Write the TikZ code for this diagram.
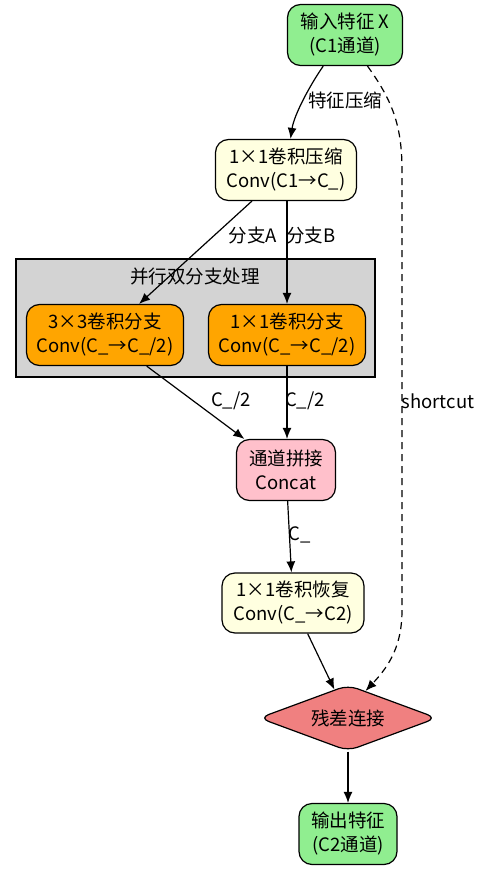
\documentclass[tikz,border=0pt]{standalone}
\usepackage{fontspec}
\setmainfont{Noto Sans CJK SC}
\usetikzlibrary{shapes.geometric,arrows.meta}
\definecolor{lgreen}{HTML}{90EE90}
\definecolor{lyellow}{HTML}{FFFFE0}
\definecolor{orng}{HTML}{FFA500}
\definecolor{pnk}{HTML}{FFC0CB}
\definecolor{lcoral}{HTML}{F08080}
\definecolor{lgray}{HTML}{D3D3D3}
\begin{document}
\begin{tikzpicture}[x=1pt,y=-1pt,
  every node/.style={font=\fontsize{18.5}{24}\selectfont, inner sep=0pt},
  box/.style={draw=black, line width=1.2pt, rounded corners=13pt, align=center},
  arr/.style={-{Latex[length=11pt,width=9pt]}, line width=1.2pt},
  dsh/.style={dash pattern=on 7pt off 5pt}]
\useasboundingbox (0,0) rectangle (482,870);
\fill[white] (0,0) rectangle (482,870);
% cluster
\draw[fill=lgray, line width=1.2pt] (16,259) rectangle (375,377);
\node (cltitle) at (195,277) {并行双分支处理};
% nodes
\node[box, fill=lgreen, minimum width=115, minimum height=61] (in) at (345,35) {输入特征 X\\(C1通道)};
\node[box, fill=lyellow, minimum width=141, minimum height=61] (cmp) at (286,170) {1×1卷积压缩\\Conv(C1→C\_)};
\node[box, fill=orng, minimum width=157, minimum height=61] (bra) at (105,335) {3×3卷积分支\\Conv(C\_→C\_/2)};
\node[box, fill=orng, minimum width=157, minimum height=61] (brb) at (287,335) {1×1卷积分支\\Conv(C\_→C\_/2)};
\node[box, fill=pnk, minimum width=99, minimum height=61] (cat) at (286,470) {通道拼接\\Concat};
\node[box, fill=lyellow, minimum width=142, minimum height=60] (rec) at (293,603) {1×1卷积恢复\\Conv(C\_→C2)};
\node[shape=diamond, draw=black, line width=1.2pt, fill=lcoral, rounded corners=10pt, aspect=2.7, minimum width=178, minimum height=66] (dia) at (348,718) {残差连接};
\node[box, fill=lgreen, minimum width=98, minimum height=61] (out) at (348,834) {输出特征\\(C2通道)};
% edges
\draw[arr] (in) .. controls (310,85) and (294,115) .. (cmp);
\node (l1) at (345,100) {特征压缩};
\draw[arr, dsh] (in) .. controls (392,100) and (402,125) .. (402,170) -- (402,610) .. controls (402,645) and (390,665) .. (dia.57);
\node (l2) at (438,401) {shortcut};
\draw[arr] (cmp) -- (bra);
\node (l3) at (253,235) {分支A};
\draw[arr] (cmp.south -| brb.north) -- (brb.north);
\node (l4) at (311,235) {分支B};
\draw[arr] (bra) -- (cat);
\node (l5) at (231,401) {C\_/2};
\draw[arr] (brb.south) -- (brb.south |- cat.north);
\node (l6) at (305,401) {C\_/2};
\draw[arr] (cat) -- (rec);
\node (l7) at (300,535) {C\_};
\draw[arr] (rec) -- (dia);
\draw[arr] (dia) -- (out);
\end{tikzpicture}
\end{document}
